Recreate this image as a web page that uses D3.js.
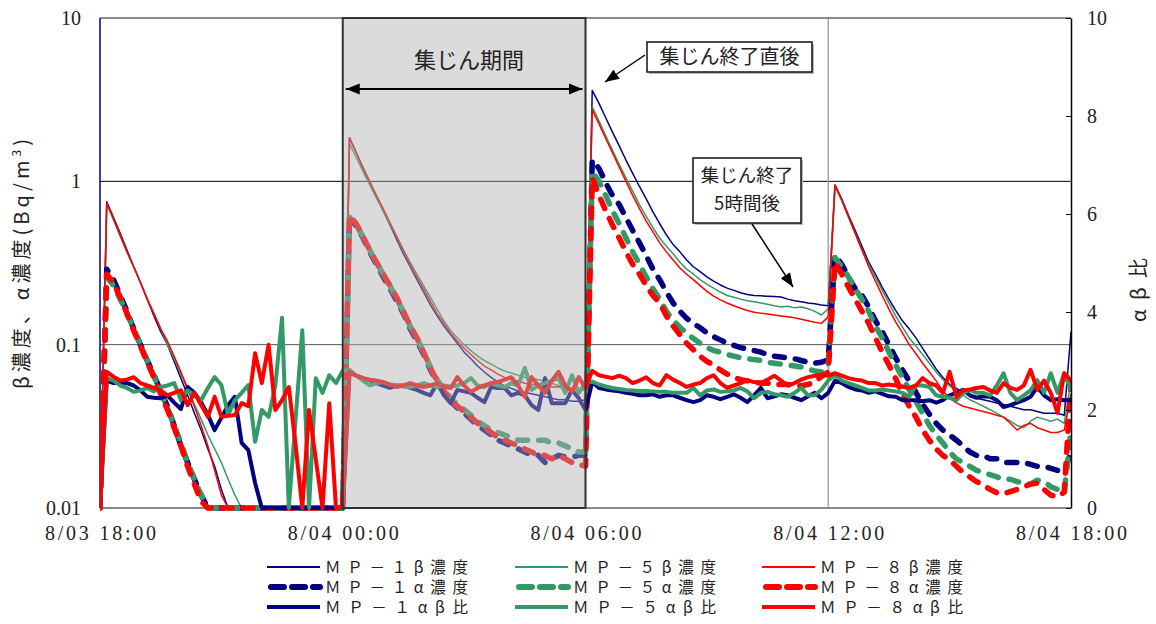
<!DOCTYPE html>
<html>
<head>
<meta charset="utf-8">
<script src="https://cdn.jsdelivr.net/npm/d3@7"></script>
<style>
  body { margin: 0; background: #fff; }
  svg text { fill: #222; }
  .num { font-family: "Liberation Serif", "DejaVu Serif", serif; }
  .jp { font-family: "Noto Sans CJK JP", "Noto Sans", sans-serif; }
</style>
</head>
<body>
<svg id="chart" width="1156" height="624"></svg>
<script>
// sampling times: one reading every 10 minutes, 8/03 18:00 -> 8/04 18:00 (minutes from start)
var minutes = d3.range(0, 1441, 10);

var tickMinutes = [0, 360, 720, 1080, 1440];
var tickLabels = ["8/03 18:00", "8/04 00:00", "8/04 06:00", "8/04 12:00", "8/04 18:00"];
var concTicks = [0.01, 0.1, 1, 10];
var concTickLabels = ["0.01", "0.1", "1", "10"];
var ratioTicks = [0, 2, 4, 6, 8, 10];

// beta concentration (Bq/m3), rows of 12 = 2 hours
var mp1Beta = [
  0.01, 0.75, 0.6, 0.48, 0.38, 0.3, 0.24, 0.19, 0.15, 0.12, 0.1, 0.079,
  0.062, 0.049, 0.038, 0.03, 0.023, 0.018, 0.013, 0.01, 0.01, 0.01, 0.01, 0.01,
  0.01, 0.01, 0.01, 0.01, 0.01, 0.01, 0.01, 0.01, 0.01, 0.01, 0.01, 0.01,
  0.01, 1.85, 1.5, 1.2, 0.98, 0.8, 0.66, 0.54, 0.44, 0.36, 0.3, 0.25,
  0.21, 0.175, 0.15, 0.13, 0.115, 0.102, 0.09, 0.082, 0.074, 0.068, 0.063, 0.059,
  0.056, 0.054, 0.052, 0.051, 0.05, 0.049, 0.048, 0.047, 0.046, 0.046, 0.045, 0.045,
  0.046, 3.6, 3.0, 2.45, 2.0, 1.65, 1.35, 1.12, 0.93, 0.78, 0.65, 0.55,
  0.47, 0.41, 0.37, 0.33, 0.3, 0.28, 0.26, 0.245, 0.232, 0.222, 0.215, 0.208,
  0.203, 0.2, 0.199, 0.198, 0.197, 0.196, 0.19, 0.186, 0.183, 0.18, 0.178, 0.175,
  0.173, 0.95, 0.78, 0.62, 0.5, 0.4, 0.32, 0.27, 0.225, 0.19, 0.162, 0.14,
  0.125, 0.11, 0.095, 0.082, 0.071, 0.063, 0.057, 0.054, 0.051, 0.049, 0.047, 0.046,
  0.045, 0.044, 0.043, 0.042, 0.041, 0.04, 0.04, 0.039, 0.038, 0.038, 0.038, 0.037,
  0.12
];
var mp5Beta = [
  0.01, 0.73, 0.58, 0.46, 0.37, 0.3, 0.24, 0.19, 0.155, 0.125, 0.1, 0.082,
  0.066, 0.053, 0.043, 0.035, 0.028, 0.023, 0.019, 0.015, 0.012, 0.01, 0.01, 0.01,
  0.01, 0.01, 0.01, 0.01, 0.01, 0.01, 0.01, 0.01, 0.01, 0.01, 0.01, 0.01,
  0.01, 1.7, 1.4, 1.15, 0.95, 0.79, 0.66, 0.55, 0.46, 0.38, 0.32, 0.27,
  0.23, 0.195, 0.165, 0.14, 0.122, 0.11, 0.1, 0.092, 0.085, 0.08, 0.076, 0.072,
  0.069, 0.067, 0.065, 0.063, 0.062, 0.061, 0.06, 0.058, 0.056, 0.055, 0.054, 0.053,
  0.053, 2.85, 2.35, 1.9, 1.55, 1.27, 1.05, 0.87, 0.72, 0.61, 0.52, 0.45,
  0.4, 0.36, 0.32, 0.29, 0.27, 0.25, 0.235, 0.222, 0.21, 0.2, 0.195, 0.19,
  0.186, 0.183, 0.18, 0.177, 0.173, 0.17, 0.172, 0.168, 0.17, 0.166, 0.16, 0.152,
  0.166, 0.93, 0.76, 0.6, 0.48, 0.38, 0.31, 0.26, 0.215, 0.18, 0.15, 0.128,
  0.11, 0.098, 0.087, 0.077, 0.068, 0.061, 0.056, 0.052, 0.049, 0.046, 0.044, 0.042,
  0.04, 0.038, 0.036, 0.034, 0.032, 0.031, 0.034, 0.036, 0.035, 0.034, 0.035, 0.033,
  0.06
];
var mp8Beta = [
  0.01, 0.74, 0.59, 0.47, 0.37, 0.3, 0.24, 0.19, 0.155, 0.125, 0.105, 0.085,
  0.068, 0.054, 0.042, 0.032, 0.024, 0.017, 0.012, 0.01, 0.01, 0.01, 0.01, 0.01,
  0.01, 0.01, 0.01, 0.01, 0.01, 0.01, 0.01, 0.01, 0.01, 0.01, 0.01, 0.01,
  0.01, 1.85, 1.5, 1.22, 1.0, 0.82, 0.68, 0.56, 0.46, 0.38, 0.31, 0.26,
  0.22, 0.185, 0.155, 0.135, 0.118, 0.105, 0.095, 0.087, 0.08, 0.074, 0.07, 0.066,
  0.063, 0.061, 0.06, 0.058, 0.057, 0.057, 0.056, 0.055, 0.055, 0.054, 0.054, 0.053,
  0.053, 2.75, 2.25, 1.83, 1.5, 1.22, 1.0, 0.82, 0.68, 0.57, 0.49, 0.42,
  0.37, 0.33, 0.295, 0.27, 0.25, 0.23, 0.212, 0.198, 0.188, 0.18, 0.173, 0.167,
  0.162, 0.158, 0.156, 0.154, 0.152, 0.15, 0.148, 0.146, 0.143, 0.14, 0.137, 0.135,
  0.148, 0.95, 0.77, 0.61, 0.48, 0.38, 0.3, 0.245, 0.2, 0.165, 0.138, 0.118,
  0.1, 0.088, 0.077, 0.068, 0.06, 0.052, 0.047, 0.044, 0.042, 0.041, 0.04, 0.039,
  0.038, 0.037, 0.036, 0.033, 0.03, 0.032, 0.033, 0.031, 0.03, 0.029, 0.029, 0.03,
  0.05
];

// alpha concentration (Bq/m3)
var mp1Alpha = [
  0.01, 0.29, 0.25, 0.2, 0.16, 0.125, 0.1, 0.08, 0.065, 0.052, 0.042, 0.032,
  0.024, 0.019, 0.015, 0.012, 0.01, 0.01, 0.01, 0.01, 0.01, 0.01, 0.01, 0.01,
  0.01, 0.01, 0.01, 0.01, 0.01, 0.01, 0.01, 0.01, 0.01, 0.01, 0.01, 0.01,
  0.01, 0.6, 0.53, 0.45, 0.37, 0.31, 0.26, 0.22, 0.185, 0.155, 0.125, 0.105,
  0.087, 0.07, 0.059, 0.051, 0.045, 0.041, 0.038, 0.035, 0.032, 0.03, 0.028, 0.026,
  0.025, 0.024, 0.023, 0.022, 0.021, 0.021, 0.019, 0.02, 0.021, 0.0205, 0.0205, 0.021,
  0.021, 1.35, 1.2, 0.98, 0.82, 0.72, 0.6, 0.5, 0.42, 0.35, 0.29, 0.25,
  0.21, 0.18, 0.16, 0.145, 0.135, 0.127, 0.118, 0.112, 0.107, 0.102, 0.099, 0.096,
  0.094, 0.092, 0.09, 0.087, 0.085, 0.084, 0.083, 0.082, 0.08, 0.078, 0.077, 0.078,
  0.081, 0.355, 0.31, 0.26, 0.22, 0.2, 0.17, 0.14, 0.12, 0.1, 0.083, 0.07,
  0.06, 0.051, 0.043, 0.0375, 0.033, 0.03, 0.028, 0.026, 0.024, 0.022, 0.021, 0.021,
  0.02, 0.02, 0.019, 0.019, 0.019, 0.019, 0.0185, 0.018, 0.018, 0.0175, 0.017, 0.0168,
  0.022
];
var mp5Alpha = [
  0.01, 0.26, 0.23, 0.19, 0.155, 0.125, 0.1, 0.08, 0.064, 0.051, 0.041, 0.032,
  0.025, 0.019, 0.015, 0.012, 0.01, 0.01, 0.01, 0.01, 0.01, 0.01, 0.01, 0.01,
  0.01, 0.01, 0.01, 0.01, 0.01, 0.01, 0.01, 0.01, 0.01, 0.01, 0.01, 0.01,
  0.01, 0.6, 0.54, 0.46, 0.38, 0.32, 0.27, 0.23, 0.19, 0.16, 0.13, 0.11,
  0.09, 0.073, 0.061, 0.053, 0.047, 0.043, 0.04, 0.037, 0.034, 0.032, 0.03, 0.029,
  0.028, 0.027, 0.026, 0.026, 0.026, 0.026, 0.026, 0.025, 0.025, 0.024, 0.023, 0.022,
  0.022, 1.15, 1.0, 0.82, 0.66, 0.55, 0.45, 0.37, 0.31, 0.26, 0.22, 0.19,
  0.16, 0.141, 0.128, 0.117, 0.109, 0.102, 0.096, 0.092, 0.09, 0.087, 0.085, 0.083,
  0.082, 0.081, 0.08, 0.078, 0.077, 0.076, 0.075, 0.074, 0.073, 0.071, 0.069, 0.068,
  0.075, 0.34, 0.3, 0.26, 0.22, 0.19, 0.16, 0.13, 0.11, 0.09, 0.075, 0.063,
  0.053, 0.045, 0.038, 0.032, 0.028, 0.025, 0.022, 0.02, 0.019, 0.018, 0.017, 0.0165,
  0.016, 0.0155, 0.015, 0.015, 0.0145, 0.0142, 0.014, 0.0148, 0.0145, 0.0135, 0.013, 0.0124,
  0.03
];
var mp8Alpha = [
  0.01, 0.27, 0.24, 0.195, 0.155, 0.122, 0.098, 0.078, 0.063, 0.05, 0.04, 0.031,
  0.024, 0.018, 0.014, 0.011, 0.01, 0.01, 0.01, 0.01, 0.01, 0.01, 0.01, 0.01,
  0.01, 0.01, 0.01, 0.01, 0.01, 0.01, 0.01, 0.01, 0.01, 0.01, 0.01, 0.01,
  0.01, 0.62, 0.55, 0.46, 0.38, 0.32, 0.27, 0.23, 0.195, 0.16, 0.13, 0.11,
  0.09, 0.072, 0.06, 0.052, 0.046, 0.042, 0.039, 0.036, 0.033, 0.031, 0.029, 0.027,
  0.026, 0.025, 0.024, 0.023, 0.022, 0.021, 0.021, 0.02, 0.021, 0.02, 0.019, 0.0185,
  0.018, 1.05, 0.82, 0.66, 0.54, 0.45, 0.37, 0.31, 0.27, 0.23, 0.2, 0.18,
  0.15, 0.13, 0.115, 0.102, 0.093, 0.085, 0.079, 0.075, 0.07, 0.066, 0.063, 0.061,
  0.06, 0.059, 0.058, 0.058, 0.057, 0.057, 0.057, 0.056, 0.056, 0.057, 0.059, 0.064,
  0.068, 0.32, 0.27, 0.225, 0.19, 0.16, 0.135, 0.11, 0.09, 0.075, 0.062, 0.05,
  0.042, 0.036, 0.03, 0.026, 0.023, 0.021, 0.0197, 0.018, 0.0165, 0.0155, 0.0145, 0.0138,
  0.013, 0.0124, 0.0122, 0.0126, 0.013, 0.0135, 0.014, 0.0142, 0.013, 0.012, 0.0117, 0.0125,
  0.06
];

// alpha/beta ratio (right axis)
var mp1Ratio = [
  0, 2.6, 2.55, 2.55, 2.55, 2.5, 2.4, 2.27, 2.25, 2.24, 2.3, 2.15,
  2.02, 2.47, 2.35, 2.16, 1.9, 1.59, 1.84, 2.1, 2.27, 1.33, 1.18, 0.51,
  0, 0, 0, 0, 0, 0, 0, 0, 0, 0, 0, 0,
  0, 2.76, 2.7, 2.65, 2.61, 2.55, 2.5, 2.45, 2.5, 2.5, 2.45, 2.41,
  2.35, 2.3, 2.55, 2.3, 2.14, 2.41, 2.38, 2.35, 2.25, 2.16, 2.47, 2.45,
  2.45, 2.3, 2.35, 2.3, 2.1, 2.0, 2.65, 2.14, 2.14, 2.14, 2.41, 2.24,
  2.0, 2.57, 2.45, 2.42, 2.4, 2.38, 2.35, 2.33, 2.3, 2.3, 2.32, 2.27,
  2.3, 2.3, 2.25, 2.2, 2.16, 2.2, 2.3, 2.27, 2.22, 2.27, 2.32, 2.25,
  2.16, 2.3, 2.45, 2.24, 2.28, 2.32, 2.3, 2.25, 2.2, 2.28, 2.35, 2.24,
  2.35, 2.6, 2.55, 2.47, 2.42, 2.4, 2.35, 2.38, 2.33, 2.28, 2.27, 2.2,
  2.2, 2.2, 2.18, 2.2, 2.15, 2.2, 2.3, 2.35, 2.41, 2.3, 2.25, 2.28,
  2.27, 2.2, 2.06, 2.1, 2.15, 2.2, 2.27, 2.47, 2.3, 2.2, 2.22, 2.2,
  2.2
];
var mp5Ratio = [
  0, 2.65, 2.6, 2.5, 2.45, 2.37, 2.4, 2.45, 2.38, 2.47, 2.5, 2.55,
  2.2, 2.4, 2.3, 2.2, 2.45, 2.67, 2.51, 1.9, 2.2, 2.35, 2.51, 1.35,
  2.0, 1.86, 2.5, 3.88, 0, 1.8, 3.63, 0, 2.65, 2.35, 2.71, 2.55,
  2.8, 2.82, 2.7, 2.6, 2.5, 2.55, 2.57, 2.52, 2.5, 2.48, 2.47, 2.5,
  2.55, 2.5, 2.47, 2.5, 2.48, 2.5, 2.55, 2.65, 2.5, 2.47, 2.55, 2.5,
  2.47, 2.55, 2.5, 2.86, 2.41, 2.5, 2.55, 2.6, 2.65, 2.35, 2.71, 2.35,
  2.55, 2.58, 2.52, 2.48, 2.45, 2.43, 2.41, 2.4, 2.39, 2.39, 2.38, 2.37,
  2.37, 2.35, 2.35, 2.35, 2.45, 2.3, 2.4, 2.42, 2.37, 2.38, 2.4, 2.45,
  2.38, 2.24, 2.35, 2.37, 2.32, 2.3, 2.27, 2.35, 2.45, 2.3, 2.3, 2.42,
  2.6, 2.72, 2.6, 2.55, 2.5, 2.45, 2.4, 2.4, 2.42, 2.4, 2.38, 2.35,
  2.27, 2.5, 2.5, 2.47, 2.3, 2.27, 2.25, 2.2, 2.35, 2.41, 2.35, 2.35,
  2.3, 2.5, 2.75, 2.35, 2.2, 2.3, 2.4, 2.61, 2.35, 2.75, 2.35, 2.75,
  2.4
];
var mp8Ratio = [
  0, 2.78, 2.68, 2.6, 2.62, 2.67, 2.55, 2.5, 2.45, 2.4, 2.3, 2.35,
  2.4, 2.1, 2.35, 2.1, 1.86, 2.27, 1.86, 1.88, 1.9, 2.14, 2.08, 3.16,
  2.55, 3.33, 2.0, 2.2, 2.47, 1.3, 0, 2.0, 1.0, 0, 2.14, 0,
  0, 2.78, 2.7, 2.65, 2.62, 2.6, 2.57, 2.52, 2.47, 2.5, 2.55, 2.5,
  2.47, 2.5, 2.55, 2.48, 2.45, 2.67, 2.5, 2.37, 2.45, 2.5, 2.55, 2.57,
  2.62, 2.67, 2.5, 2.27, 2.67, 2.5, 2.35, 2.6, 2.78, 2.5, 2.37, 2.67,
  2.45, 2.8, 2.71, 2.68, 2.65, 2.7, 2.65, 2.55, 2.6, 2.67, 2.55, 2.5,
  2.71, 2.62, 2.55, 2.47, 2.52, 2.55, 2.65, 2.71, 2.55, 2.45, 2.5, 2.55,
  2.61, 2.57, 2.55, 2.62, 2.7, 2.6, 2.5, 2.55, 2.62, 2.67, 2.7, 2.72,
  2.7, 2.75, 2.7, 2.65, 2.62, 2.6, 2.55, 2.55, 2.5, 2.52, 2.5, 2.48,
  2.45, 2.5, 2.65, 2.55, 2.5, 2.35, 2.78, 2.27, 2.4, 2.42, 2.45, 2.47,
  2.4, 2.35, 2.55, 2.45, 2.41, 2.5, 2.82, 2.41, 2.6, 2.35, 1.94, 2.75,
  2.6
];

var navy = "#000080", green = "#339966", red = "#ff0000";

// plotting order follows the legend (row-wise)
var series = [
  { name: "ＭＰ－１β濃度", values: mp1Beta, color: navy, kind: "beta" },
  { name: "ＭＰ－５β濃度", values: mp5Beta, color: green, kind: "beta" },
  { name: "ＭＰ－８β濃度", values: mp8Beta, color: red, kind: "beta" },
  { name: "ＭＰ－１α濃度", values: mp1Alpha, color: navy, kind: "alpha" },
  { name: "ＭＰ－５α濃度", values: mp5Alpha, color: green, kind: "alpha" },
  { name: "ＭＰ－８α濃度", values: mp8Alpha, color: red, kind: "alpha" },
  { name: "ＭＰ－１αβ比", values: mp1Ratio, color: navy, kind: "ratio" },
  { name: "ＭＰ－５αβ比", values: mp5Ratio, color: green, kind: "ratio" },
  { name: "ＭＰ－８αβ比", values: mp8Ratio, color: red, kind: "ratio" }
];

var styles = {
  beta:  { width: 1.5, dash: null },
  alpha: { width: 5.5, dash: "10,11" },
  ratio: { width: 4, dash: null }
};

var svg = d3.select("#chart");
var plotLeft = 100, plotRight = 1071, plotTop = 18, plotBottom = 508;

var x = d3.scaleLinear().domain([0, 1440]).range([plotLeft, plotRight]);
var yConc = d3.scaleLog().domain([0.01, 10]).range([plotBottom, plotTop]).clamp(true);
var yRatio = d3.scaleLinear().domain([0, 10]).range([plotBottom, plotTop]);

var defs = svg.append("defs");
defs.append("clipPath").attr("id", "plotClip")
  .append("rect").attr("x", plotLeft).attr("y", plotTop - 4)
  .attr("width", plotRight - plotLeft + 1).attr("height", plotBottom - plotTop + 7);

defs.append("marker").attr("id", "arrowHead")
  .attr("viewBox", "0 0 10 10").attr("refX", 10).attr("refY", 5)
  .attr("markerUnits", "userSpaceOnUse")
  .attr("markerWidth", 14).attr("markerHeight", 14)
  .attr("orient", "auto-start-reverse")
  .append("path").attr("d", "M0,1 L10,5 L0,9 Z").attr("fill", "#000");

// gridlines
svg.selectAll(".hgrid").data([1, 0.1]).enter().append("line")
  .attr("x1", plotLeft).attr("x2", plotRight)
  .attr("y1", function(d) { return yConc(d); })
  .attr("y2", function(d) { return yConc(d); })
  .attr("stroke", function(d) { return d === 1 ? "#000" : "#555"; })
  .attr("stroke-width", 1);

svg.selectAll(".vgrid").data([720, 1080]).enter().append("line")
  .attr("x1", function(d) { return x(d); }).attr("x2", function(d) { return x(d); })
  .attr("y1", plotTop).attr("y2", plotBottom)
  .attr("stroke", "#a6a6a6").attr("stroke-width", 1.5);

// frame
svg.append("line").attr("x1", plotLeft).attr("x2", plotRight).attr("y1", plotTop).attr("y2", plotTop)
  .attr("stroke", "#666").attr("stroke-width", 1.5);
svg.append("line").attr("x1", plotLeft).attr("x2", plotRight).attr("y1", plotBottom).attr("y2", plotBottom)
  .attr("stroke", "#888").attr("stroke-width", 2);
svg.append("line").attr("x1", plotLeft).attr("x2", plotLeft).attr("y1", plotTop).attr("y2", plotBottom)
  .attr("stroke", navy).attr("stroke-width", 1.5);

// data lines
var plot = svg.append("g").attr("clip-path", "url(#plotClip)");
series.forEach(function(s) {
  var yScale = s.kind === "ratio" ? yRatio : yConc;
  var line = d3.line()
    .x(function(d, i) { return x(minutes[i]); })
    .y(function(d) { return yScale(d); });
  plot.append("path")
    .datum(s.values)
    .attr("d", line)
    .attr("fill", "none")
    .attr("stroke", s.color)
    .attr("stroke-width", styles[s.kind].width)
    .attr("stroke-dasharray", styles[s.kind].dash)
    .attr("stroke-linecap", s.kind === "alpha" ? "round" : "butt")
    .attr("stroke-linejoin", "round");
});

// collection period shading (drawn over the lines)
svg.append("rect")
  .attr("x", x(360)).attr("y", plotTop)
  .attr("width", x(720) - x(360)).attr("height", plotBottom - plotTop)
  .attr("fill", "#b0b0b0").attr("fill-opacity", 0.45);
svg.append("rect")
  .attr("x", x(360)).attr("y", plotTop)
  .attr("width", x(720) - x(360)).attr("height", plotBottom - plotTop)
  .attr("fill", "none").attr("stroke", "#333").attr("stroke-width", 2);

// right axis
var rightAxis = d3.axisRight(yRatio).tickValues(ratioTicks).tickSize(0).tickPadding(16);
var ra = svg.append("g").attr("transform", "translate(" + plotRight + ",0)").call(rightAxis);
ra.select(".domain").attr("stroke", "#000").attr("stroke-width", 1.5);
ra.selectAll(".tick line").remove();
ra.selectAll(".tick").append("line").attr("x1", 0).attr("x2", -5).attr("stroke", "#000");
ra.selectAll("text").attr("class", "num").attr("font-size", 20).attr("fill", "#222");

// left axis labels
var leftAxis = d3.axisLeft(yConc).tickValues(concTicks)
  .tickFormat(function(d, i) { return concTickLabels[i]; }).tickSize(0).tickPadding(19);
var la = svg.append("g").attr("transform", "translate(" + plotLeft + ",0)").call(leftAxis);
la.select(".domain").remove();
la.selectAll("text").attr("class", "num").attr("font-size", 20).attr("fill", "#222");

// bottom axis labels
var bottomAxis = d3.axisBottom(x).tickValues(tickMinutes)
  .tickFormat(function(d, i) { return tickLabels[i]; }).tickSize(0).tickPadding(18);
var ba = svg.append("g").attr("transform", "translate(0," + plotBottom + ")").call(bottomAxis);
ba.select(".domain").remove();
ba.selectAll("text").attr("class", "num").attr("font-size", 20).attr("fill", "#222")
  .attr("textLength", 111).attr("lengthAdjust", "spacing");

// axis titles
var yTitle = svg.append("text").attr("class", "jp")
  .attr("transform", "translate(29,264) rotate(-90)")
  .attr("text-anchor", "middle").attr("font-size", 20)
  .attr("textLength", 250).attr("lengthAdjust", "spacing");
yTitle.append("tspan").text("β濃度、α濃度(Bq/m");
yTitle.append("tspan").attr("font-size", 12).attr("dy", -8).text("3");
yTitle.append("tspan").attr("dy", 8).text(")");

svg.append("text").attr("class", "jp")
  .attr("transform", "translate(1146,290) rotate(-90)")
  .attr("text-anchor", "middle").attr("font-size", 20)
  .attr("textLength", 64).attr("lengthAdjust", "spacing")
  .text("αβ比");

// collection period label and double arrow
svg.append("text").attr("class", "jp")
  .attr("x", 469).attr("y", 68).attr("text-anchor", "middle").attr("font-size", 22)
  .attr("fill", "#333").text("集じん期間");
svg.append("line").attr("x1", x(360) + 3).attr("x2", x(720) - 3).attr("y1", 89).attr("y2", 89)
  .attr("stroke", "#000").attr("stroke-width", 2)
  .attr("marker-start", "url(#arrowHead)").attr("marker-end", "url(#arrowHead)");

// callout boxes
function callout(bx, by, bw, bh) {
  svg.append("rect").attr("x", bx + 2).attr("y", by + 2).attr("width", bw).attr("height", bh)
    .attr("fill", "#bbb");
  svg.append("rect").attr("x", bx).attr("y", by).attr("width", bw).attr("height", bh)
    .attr("fill", "#fff").attr("stroke", "#111").attr("stroke-width", 1.5);
}
callout(647, 42, 165, 30);
svg.append("text").attr("class", "jp").attr("x", 729.5).attr("y", 64)
  .attr("text-anchor", "middle").attr("font-size", 20).text("集じん終了直後");
svg.append("line").attr("x1", 645).attr("y1", 55).attr("x2", 605).attr("y2", 82)
  .attr("stroke", "#000").attr("stroke-width", 1.5).attr("marker-end", "url(#arrowHead)");

callout(693, 158, 108, 65);
svg.append("text").attr("class", "jp").attr("x", 747).attr("y", 182)
  .attr("text-anchor", "middle").attr("font-size", 18.5).text("集じん終了");
svg.append("text").attr("class", "jp").attr("x", 747).attr("y", 210)
  .attr("text-anchor", "middle").attr("font-size", 18.5).text("5時間後");
svg.append("line").attr("x1", 752).attr("y1", 224).attr("x2", 793).attr("y2", 287)
  .attr("stroke", "#000").attr("stroke-width", 1.5).attr("marker-end", "url(#arrowHead)");

// legend: one column per station, one row per quantity
var legendX = [267, 515, 762];
var legendY = [567, 587, 607];
var kinds = ["beta", "alpha", "ratio"];
series.forEach(function(s, k) {
  var col = k % 3, row = kinds.indexOf(s.kind);
  var lx = legendX[col], ly = legendY[row];
  svg.append("line")
    .attr("x1", lx + (s.kind === "alpha" ? 4 : 0)).attr("x2", lx + 53)
    .attr("y1", ly).attr("y2", ly)
    .attr("stroke", s.color)
    .attr("stroke-width", s.kind === "alpha" ? 6 : styles[s.kind].width + (s.kind === "beta" ? 0.5 : 0))
    .attr("stroke-dasharray", s.kind === "alpha" ? "13,8" : null)
    .attr("stroke-linecap", s.kind === "alpha" ? "round" : "butt");
  svg.append("text").attr("class", "jp")
    .attr("x", lx + 58).attr("y", ly + 5.5).attr("font-size", 15.5)
    .attr("textLength", 143).attr("lengthAdjust", "spacing")
    .text(s.name);
});
</script>
</body>
</html>
